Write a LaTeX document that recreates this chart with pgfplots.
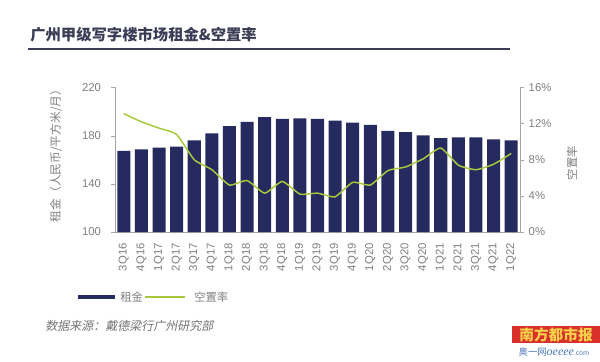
\documentclass[border=0pt]{standalone}
\usepackage{fontspec}
\setmainfont{Liberation Sans}
\newfontfamily\cjk{Noto Sans CJK SC}
\newfontfamily\cjkit[FakeSlant=0.2]{Noto Sans CJK SC}
\usepackage{pgfplots}
\pgfplotsset{compat=1.18}
\definecolor{navy}{HTML}{252B5E}
\definecolor{vgreen}{HTML}{A8C83C}
\definecolor{tgray}{HTML}{808080}
\definecolor{agray}{HTML}{A6A6A6}
\definecolor{titlecol}{HTML}{3A3D55}
\definecolor{logored}{HTML}{D9302B}
\definecolor{logoyel}{HTML}{F6D24A}
\definecolor{logoblue}{HTML}{4A78B8}
\pgfplotstableread{
x rent vac
0 167.3 13.1
1 168.7 12.2
2 170.0 11.5
3 171.0 10.8
4 176.0 8.0
5 182.0 6.9
6 188.0 5.2
7 191.5 5.7
8 195.4 4.3
9 194.0 5.6
10 194.3 4.2
11 194.0 4.3
12 192.4 3.9
13 190.8 5.5
14 189.0 5.2
15 183.9 6.8
16 183.0 7.2
17 180.3 8.1
18 178.0 9.3
19 178.6 7.4
20 178.6 6.9
21 177.0 7.5
22 176.1 8.7
}\data
\begin{document}
\begin{tikzpicture}
\begin{scope}[x=0.75pt,y=0.75pt]
\fill[white] (0,0) rectangle (600,361);
\node[anchor=west, font=\cjk\bfseries\fontsize{11.5}{13}\selectfont, text=titlecol, inner sep=0] at (30,326) {广州甲级写字楼市场租金\&空置率};
\draw[titlecol, line width=1.1pt] (28,312) -- (510,312);
\node[rotate=90, font=\cjk\fontsize{8.8}{10}\selectfont, text=tgray] at (56,208) {租金（人民币/平方米/月）};
\node[rotate=90, font=\cjk\fontsize{8.5}{10}\selectfont, text=tgray] at (572,198) {空置率};
% legend
\fill[navy] (78,62) rectangle (115,66.5);
\node[anchor=west, font=\cjk\fontsize{8.5}{10}\selectfont, text=tgray, inner sep=0] at (120,64) {租金};
\draw[vgreen, line width=0.8pt] (145,64) -- (185,64);
\node[anchor=west, font=\cjk\fontsize{8.5}{10}\selectfont, text=tgray, inner sep=0] at (194,64) {空置率};
% source
\node[anchor=west, font=\cjkit\fontsize{9}{10}\selectfont, text=tgray!90!black, inner sep=0] at (45,35) {数据来源：戴德梁行广州研究部};
% logo
\fill[logored] (512,18) rectangle (600,35);
\node[font=\cjk\bfseries\fontsize{11}{12}\selectfont, text=logoyel, inner sep=0] at (556,26.5) {南方都市报};
\node[font=\cjk\fontsize{7}{8}\selectfont, text=logoblue, inner sep=0] at (554,9) {奥一网{\fontspec{Liberation Serif}\itshape\fontsize{9}{10}\selectfont oeeee}{\fontsize{5}{6}\selectfont .com}};
\end{scope}
\pgfplotsset{
  base/.style={
    at={(86.25pt,96.75pt)}, anchor=south west, scale only axis,
    width=303.75pt, height=108.375pt,
    xmin=-0.5, xmax=22.5,
    tick label style={font=\fontsize{8.5}{10}\selectfont, text=tgray},
    /pgf/number format/assume math mode=true,
    axis line style={agray},
    tick style={agray},
    tick align=outside,
    major tick length=3pt,
  }
}
\begin{axis}[base,
  ymin=100, ymax=220, ytick={100,140,180,220},
  axis y line*=left, axis x line*=bottom,
  y tick label style={xshift=-4pt},
  xtick={0,...,22},
  xticklabels={3Q16,4Q16,1Q17,2Q17,3Q17,4Q17,1Q18,2Q18,3Q18,4Q18,1Q19,2Q19,3Q19,4Q19,1Q20,2Q20,3Q20,4Q20,1Q21,2Q21,3Q21,4Q21,1Q22},
  x tick label style={rotate=90, anchor=east, xshift=-2pt},
  xtick style={draw=none},
  minor xtick={-0.5,0.5,...,22.5},
  minor tick length=3pt,
  minor x tick style={agray},
]
\addplot[ybar, bar width=0.74, fill=navy, draw=none] table[x=x,y=rent]{\data};
\end{axis}
\begin{axis}[base,
  ymin=0, ymax=16, ytick={0,4,8,12,16},
  yticklabel={\pgfmathprintnumber{\tick}\%},
  axis y line*=right, axis x line=none,
]
\addplot[vgreen, line width=1.1pt, smooth, tension=0.3] table[x=x,y=vac]{\data};
\end{axis}
\end{tikzpicture}
\end{document}
